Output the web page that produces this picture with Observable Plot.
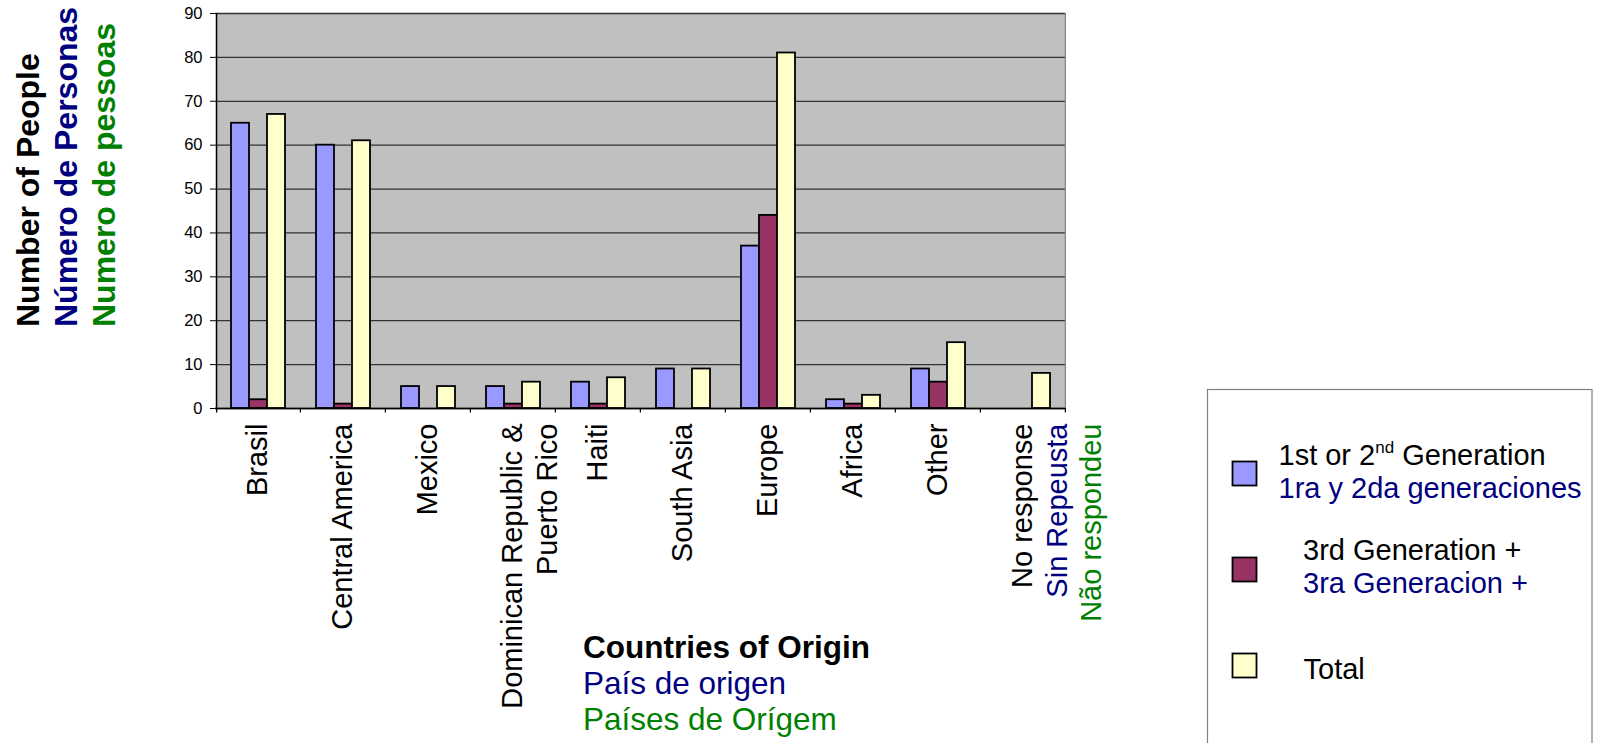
<!DOCTYPE html>
<html>
<head>
<meta charset="utf-8">
<script src="https://cdn.jsdelivr.net/npm/d3@7"></script>
<script src="https://cdn.jsdelivr.net/npm/@observablehq/plot@0.6"></script>
<style>
  html, body { margin: 0; padding: 0; background: #ffffff; }
  #chart { position: relative; width: 1597px; height: 743px; overflow: hidden; }
</style>
</head>
<body>
<div id="chart"></div>
<script>
// ---------- data ----------
const categories = ["Brasil", "Central America", "Mexico", "Dominican Republic & Puerto Rico", "Haiti",
  "South Asia", "Europe", "Africa", "Other", "No response"];
const categoryLabelLines = [
  ["Brasil"], ["Central America"], ["Mexico"], ["Dominican Republic &", "Puerto Rico"], ["Haiti"],
  ["South Asia"], ["Europe"], ["Africa"], ["Other"], ["No response", "Sin Repeusta", "Não respondeu"]
];
const series = ["1st or 2nd Generation", "3rd Generation +", "Total"];
const gen12 = [65, 60, 5, 5, 6, 9, 37, 2, 9, 0];
const gen3 = [2, 1, 0, 1, 1, 0, 44, 1, 6, 0];
const totals = [67, 61, 5, 6, 7, 9, 81, 3, 15, 8];
const yTicks = [0, 10, 20, 30, 40, 50, 60, 70, 80, 90];
const yTitleLines = ["Number of People", "Número de Personas", "Numero de pessoas"];
const xTitleLines = ["Countries of Origin", "País de origen", "Países de Orígem"];
const legendLines = [
  ["1st or 2", "1ra y 2da generaciones"],
  ["3rd Generation +", "3ra Generacion +"],
  ["Total"]
];

// ---------- styles ----------
const seriesColors = ["#9999FF", "#993366", "#FFFFCC"];
const langColors = ["#000000", "#000080", "#008000"];
const FONT = "'Liberation Sans', Arial, Helvetica, sans-serif";

// ---------- layout ----------
const W = 1597, H = 743;
const ML = 211, MR = 529, MT = 13, MB = 335;
const step = (W - ML - MR) / categories.length;
const barW = 19;
const outerPad = (step / barW - series.length) / 2;
const edge = step / 2 - barW; // outer bar centre -> category boundary

const valuesBySeries = [gen12, gen3, totals];
const rows = categories.flatMap((c, i) =>
  series.map((s, j) => ({cat: c, series: s, value: valuesBySeries[j][i]}))
).filter(d => d.value > 0);

const labelRows = categories.flatMap((c, i) => {
  const lines = categoryLabelLines[i];
  return lines.map((t, k) => ({cat: c, text: t, line: k,
    color: lines.length === 3 ? langColors[k] : "#000000"}));
});

const labelMarks = [];
for (const k of [0, 1, 2]) {
  for (const col of langColors) {
    const sub = labelRows.filter(d => d.line === k && d.color === col);
    if (!sub.length) continue;
    labelMarks.push(Plot.text(sub, {
      fx: "cat", text: "text", frameAnchor: "bottom", rotate: -90,
      textAnchor: "end", lineAnchor: "middle", dy: 15, dx: k * 34.5,
      fill: col, fontSize: 29, fontFamily: FONT
    }));
  }
}

const chart = Plot.plot({
  width: W, height: H,
  marginLeft: ML, marginRight: MR, marginTop: MT, marginBottom: MB,
  style: {fontFamily: FONT, fontSize: "16.5px", color: "#000", background: "transparent", overflow: "visible"},
  fx: {domain: categories, padding: 0, axis: null, label: null},
  x: {domain: series, paddingInner: 0, paddingOuter: outerPad, axis: null, label: null},
  y: {domain: [0, 90], axis: null, label: null},
  color: {domain: series, range: seriesColors, legend: false},
  marks: [
    Plot.frame({fill: "#c0c0c0", stroke: "#c0c0c0", strokeWidth: 1}),
    Plot.ruleY(yTicks, {stroke: "#333333", strokeWidth: 1.3}),
    Plot.ruleX([categories[categories.length - 1]], {fx: d => d, x: () => series[series.length - 1],
      dx: edge, y1: 0, y2: 90, stroke: "#808080", strokeWidth: 1.2}),
    Plot.barY(rows, {fx: "cat", x: "series", y: "value", fill: "series", stroke: "#000", strokeWidth: 1.8}),
    Plot.ruleY([0], {stroke: "#000", strokeWidth: 1.3}),
    Plot.ruleX([categories[0]], {fx: d => d, x: () => series[0], dx: -edge, y1: -1, y2: 90,
      stroke: "#000", strokeWidth: 1.3}),
    Plot.ruleX(categories, {fx: d => d, x: () => series[series.length - 1], dx: edge, y1: -1, y2: 0,
      stroke: "#000", strokeWidth: 1.2}),
    Plot.axisY(yTicks, {anchor: "left", tickSize: 5, tickPadding: 8, fontSize: 16.5, label: null}),
    ...labelMarks
  ]
});
document.getElementById("chart").appendChild(chart);

// ---------- titles & legend ----------
const svg = d3.select(chart);
const g = svg.append("g").attr("font-family", FONT).attr("text-anchor", "start");

// y-axis title (rotated)
const yBase = [38.5, 76.7, 115];
yTitleLines.forEach((t, i) => {
  g.append("text")
    .attr("transform", `translate(${yBase[i]},327) rotate(-90)`)
    .attr("text-anchor", "start")
    .attr("font-size", 32).attr("font-weight", "bold")
    .attr("fill", langColors[i]).text(t);
});

// x-axis title
const xBase = [658, 694, 730];
xTitleLines.forEach((t, i) => {
  g.append("text")
    .attr("x", 583).attr("y", xBase[i])
    .attr("text-anchor", "start")
    .attr("font-size", 31.5).attr("font-weight", i === 0 ? "bold" : "normal")
    .attr("fill", langColors[i]).text(t);
});

// legend
g.append("rect").attr("x", 1207.5).attr("y", 389.5).attr("width", 384.5).attr("height", 420)
  .attr("fill", "#ffffff").attr("stroke", "#808080").attr("stroke-width", 1.2);
const swY = [461, 557, 653];
series.forEach((s, i) => {
  g.append("rect").attr("x", 1232.5).attr("y", swY[i] + 0.5).attr("width", 24).attr("height", 24)
    .attr("fill", seriesColors[i]).attr("stroke", "#000").attr("stroke-width", 1.8);
});
function legendText(x, y, color, txt) {
  return g.append("text").attr("x", x).attr("y", y).attr("text-anchor", "start")
    .attr("font-size", 29).attr("fill", color).text(txt);
}
// entry 1
const t1 = g.append("text").attr("x", 1278.5).attr("y", 465).attr("text-anchor", "start")
  .attr("font-size", 29).attr("fill", "#000");
t1.append("tspan").text(legendLines[0][0]);
t1.append("tspan").attr("font-size", 17).attr("dy", -12).text("nd");
t1.append("tspan").attr("dy", 12).text("\u00a0Generation");
legendText(1278.5, 498, langColors[1], legendLines[0][1]);
// entry 2
legendText(1303, 560, "#000", legendLines[1][0]);
legendText(1303, 593, langColors[1], legendLines[1][1]);
// entry 3
legendText(1303.5, 679, "#000", legendLines[2][0]);
</script>
</body>
</html>
